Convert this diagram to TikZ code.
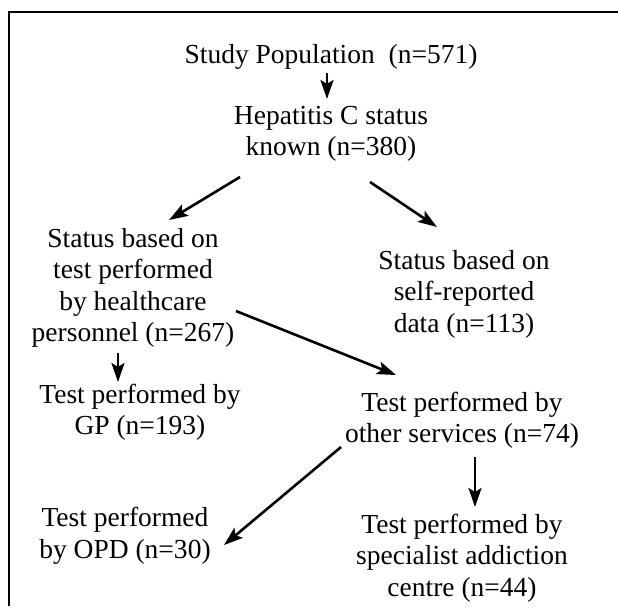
\documentclass[tikz,border=0pt]{standalone}
\usepackage{fontspec}
\setmainfont{Liberation Serif}
\usetikzlibrary{arrows.meta}
\tikzset{
  lbl/.style={align=center,font=\fontsize{27.5}{31.5}\selectfont,inner sep=0pt},
  flowarrow/.style={line width=2.6pt,-{Stealth[length=19pt,width=13pt,inset=4pt]}}
}
\begin{document}
\begin{tikzpicture}[x=1pt,y=1pt]
\useasboundingbox (0,-606) rectangle (618,0);
\draw[line width=1.8pt] (9,-606) -- (9,-12) -- (618,-12);
\node[lbl] (sp) at (331,-57) {Study Population\ \ (n=571)};
\node[lbl] (hc) at (331,-134) {Hepatitis C status\\known (n=380)};
\node[lbl] (lb) at (133,-288) {Status based on\\test performed\\by healthcare\\personnel (n=267)};
\node[lbl] (rb) at (464,-294) {Status based on\\self-reported\\data (n=113)};
\node[lbl] (gp) at (140,-412) {Test performed by\\GP (n=193)};
\node[lbl] (os) at (462,-420) {Test performed by\\other services (n=74)};
\node[lbl] (opd) at (125,-536) {Test performed\\by OPD (n=30)};
\node[lbl] (sac) at (462,-558) {Test performed by\\specialist addiction\\centre (n=44)};
\coordinate (sp-o) at (327,-73);  \coordinate (hc-i) at (327,-99);
\coordinate (hc-l) at (240,-177); \coordinate (lb-i) at (169,-220);
\coordinate (hc-r) at (370,-182); \coordinate (rb-i) at (437,-227);
\coordinate (lb-d) at (118,-353); \coordinate (gp-i) at (118,-382);
\coordinate (lb-r) at (236,-311); \coordinate (os-i) at (396,-375);
\coordinate (os-d) at (475,-457); \coordinate (sac-i) at (475,-507);
\coordinate (os-l) at (341,-447); \coordinate (opd-i) at (224,-545);
\draw[flowarrow] (sp-o) -- (hc-i);
\draw[flowarrow] (hc-l) -- (lb-i);
\draw[flowarrow] (hc-r) -- (rb-i);
\draw[flowarrow] (lb-d) -- (gp-i);
\draw[flowarrow] (lb-r) -- (os-i);
\draw[flowarrow] (os-d) -- (sac-i);
\draw[flowarrow] (os-l) -- (opd-i);
\end{tikzpicture}
\end{document}
